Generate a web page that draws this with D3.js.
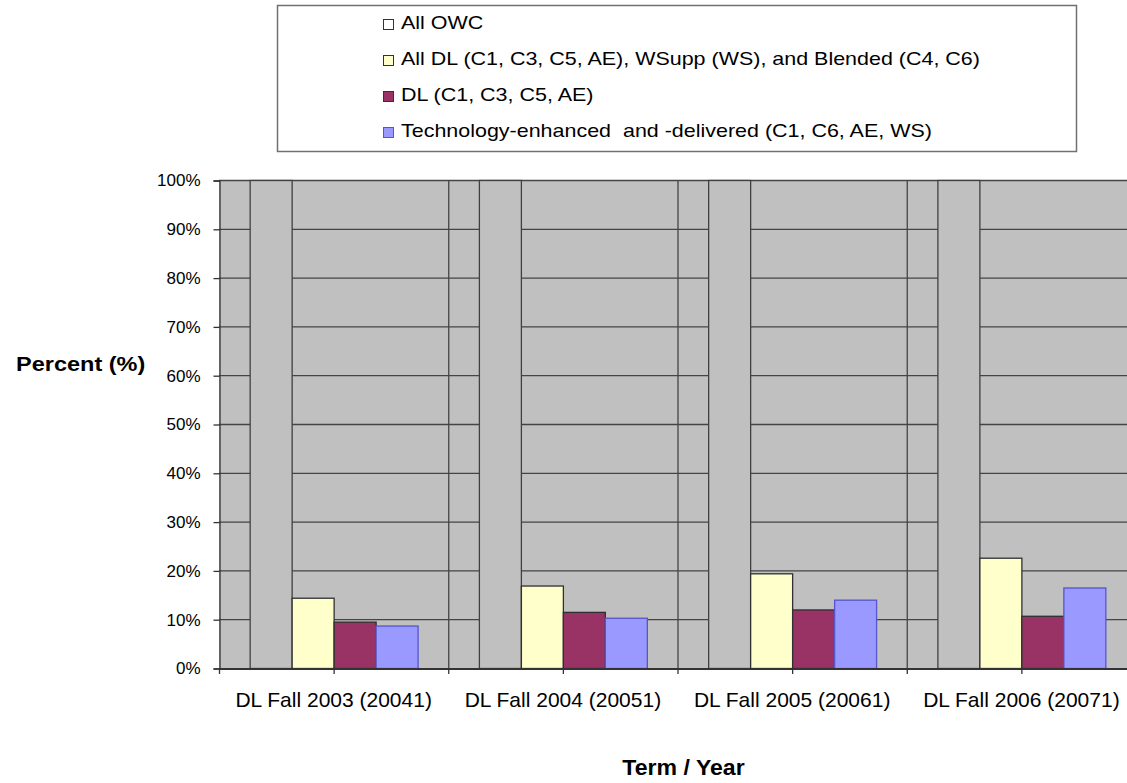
<!DOCTYPE html>
<html>
<head>
<meta charset="utf-8">
<script src="https://cdn.jsdelivr.net/npm/d3@7"></script>
<style>
  body { margin: 0; background: #fff; overflow: hidden; }
  text { font-family: "Liberation Sans", Arial, sans-serif; fill: #000; }
</style>
</head>
<body>
<div id="chart"></div>
<script>
const terms = ['DL Fall 2003 (20041)', 'DL Fall 2004 (20051)', 'DL Fall 2005 (20061)', 'DL Fall 2006 (20071)']
const seriesNames = [
  'All OWC',
  'All DL (C1, C3, C5, AE), WSupp (WS), and Blended (C4, C6)',
  'DL (C1, C3, C5, AE)',
  'Technology-enhanced  and -delivered (C1, C6, AE, WS)'
]
const allOwc = [100, 100, 100, 100]
const allDl = [14.4, 16.9, 19.4, 22.6]
const dlOnly = [9.5, 11.5, 12.0, 10.7]
const techEnh = [8.7, 10.3, 14.0, 16.5]
const yTicks = [0, 10, 20, 30, 40, 50, 60, 70, 80, 90, 100]

const fills = ['#C0C0C0', '#FFFFCC', '#993366', '#9999FF']
const swatchFills = ['#FFFFFF', '#FFFFCC', '#993366', '#9999FF']
const strokes = ['#404040', '#303030', '#303030', '#5555CC']

const width = 1127, height = 783
const margin = { top: 180, left: 219, bottom: 115 }
const plotRight = 1136
const font = '"Liberation Sans", Arial, sans-serif'

const svg = d3.select('#chart').append('svg')
  .attr('width', width)
  .attr('height', height)

const x = d3.scaleBand()
  .domain(terms)
  .range([margin.left, plotRight])

const inner = d3.scaleBand()
  .domain(d3.range(seriesNames.length))
  .range([0, x.bandwidth()])
  .paddingOuter(0.73)

const y = d3.scaleLinear()
  .domain([0, 100])
  .range([height - margin.bottom, margin.top])

// plot background
svg.append('rect')
  .attr('x', margin.left)
  .attr('y', y(100))
  .attr('width', plotRight - margin.left)
  .attr('height', y(0) - y(100))
  .attr('fill', '#C0C0C0')

// horizontal gridlines
svg.append('g')
  .selectAll('line')
  .data(yTicks.slice(1))
  .join('line')
  .attr('x1', margin.left)
  .attr('x2', plotRight)
  .attr('y1', d => y(d) + 0.5)
  .attr('y2', d => y(d) + 0.5)
  .attr('stroke', '#444')
  .attr('stroke-width', 1.3)

// vertical gridlines between categories
svg.append('g')
  .selectAll('line')
  .data(terms.slice(1))
  .join('line')
  .attr('x1', d => x(d) + 0.5)
  .attr('x2', d => x(d) + 0.5)
  .attr('y1', y(100))
  .attr('y2', y(0))
  .attr('stroke', '#444')
  .attr('stroke-width', 1.3)

const rows = terms.map((t, i) => ({
  term: t,
  values: [allOwc[i], allDl[i], dlOnly[i], techEnh[i]]
}))

const groups = svg.append('g')
  .selectAll('g')
  .data(rows)
  .join('g')
  .attr('transform', d => `translate(${x(d.term)},0)`)

groups.selectAll('rect')
  .data(d => d.values.map((v, k) => ({ v, k })))
  .join('rect')
  .attr('x', d => inner(d.k) + 0.5)
  .attr('y', d => y(d.v) + 0.5)
  .attr('width', inner.bandwidth())
  .attr('height', d => y(0) - y(d.v))
  .attr('fill', d => fills[d.k])
  .attr('stroke', d => strokes[d.k])
  .attr('stroke-width', 1.3)

// y axis
const yAxis = svg.append('g')
  .attr('transform', `translate(${margin.left + 0.5},0.5)`)
  .call(d3.axisLeft(y).tickValues(yTicks).tickFormat(d => d + '%').tickSize(6).tickPadding(13))
yAxis.select('.domain').attr('stroke', '#333').attr('stroke-width', 1.3)
yAxis.selectAll('.tick line').attr('stroke', '#333').attr('stroke-width', 1.3)
yAxis.selectAll('.tick text')
  .attr('font-size', 17)
  .attr('font-family', font)
  .attr('fill', '#000')

// x axis
const xAxis = svg.append('g')
  .attr('transform', `translate(0,${y(0) + 0.5})`)
  .call(d3.axisBottom(x).tickSize(0).tickPadding(24))
xAxis.select('.domain').attr('stroke', '#333').attr('stroke-width', 1.8)
xAxis.selectAll('.tick text')
  .attr('font-size', 21)
  .attr('font-family', font)
  .attr('fill', '#000')

// small ticks at category boundaries and centres
const tickXs = terms.flatMap(t => [x(t), x(t) + x.bandwidth() / 2])
svg.append('g')
  .selectAll('line')
  .data(tickXs)
  .join('line')
  .attr('x1', d => d + 0.5)
  .attr('x2', d => d + 0.5)
  .attr('y1', y(0))
  .attr('y2', y(0) + 6)
  .attr('stroke', '#333')
  .attr('stroke-width', 1.3)

// axis titles (the original text is slightly stretched sideways)
svg.append('text')
  .attr('transform', 'translate(16,371) scale(1.12,1)')
  .attr('font-size', 21)
  .attr('font-weight', 'bold')
  .text('Percent (%)')

svg.append('text')
  .attr('transform', `translate(${(margin.left + plotRight) / 2 + 6},775) scale(1.05,1)`)
  .attr('text-anchor', 'middle')
  .attr('font-size', 22)
  .attr('font-weight', 'bold')
  .text('Term / Year')

// legend
const legend = svg.append('g')
legend.append('rect')
  .attr('x', 277.5)
  .attr('y', 5.5)
  .attr('width', 799)
  .attr('height', 146)
  .attr('fill', '#fff')
  .attr('stroke', '#707070')
  .attr('stroke-width', 1.5)

const legendY = d3.scalePoint()
  .domain(d3.range(seriesNames.length))
  .range([29, 137])

const items = legend.selectAll('g.item')
  .data(seriesNames)
  .join('g')
  .attr('class', 'item')
  .attr('transform', (d, i) => `translate(383,${legendY(i)})`)

items.append('rect')
  .attr('x', 0.5)
  .attr('y', -9.5)
  .attr('width', 10)
  .attr('height', 10)
  .attr('fill', (d, i) => swatchFills[i])
  .attr('stroke', (d, i) => i === 3 ? '#5555CC' : '#333')

items.append('text')
  .attr('transform', 'translate(18,0) scale(1.13,1)')
  .attr('font-size', 19)
  .style('white-space', 'pre')
  .text(d => d)
</script>
</body>
</html>
